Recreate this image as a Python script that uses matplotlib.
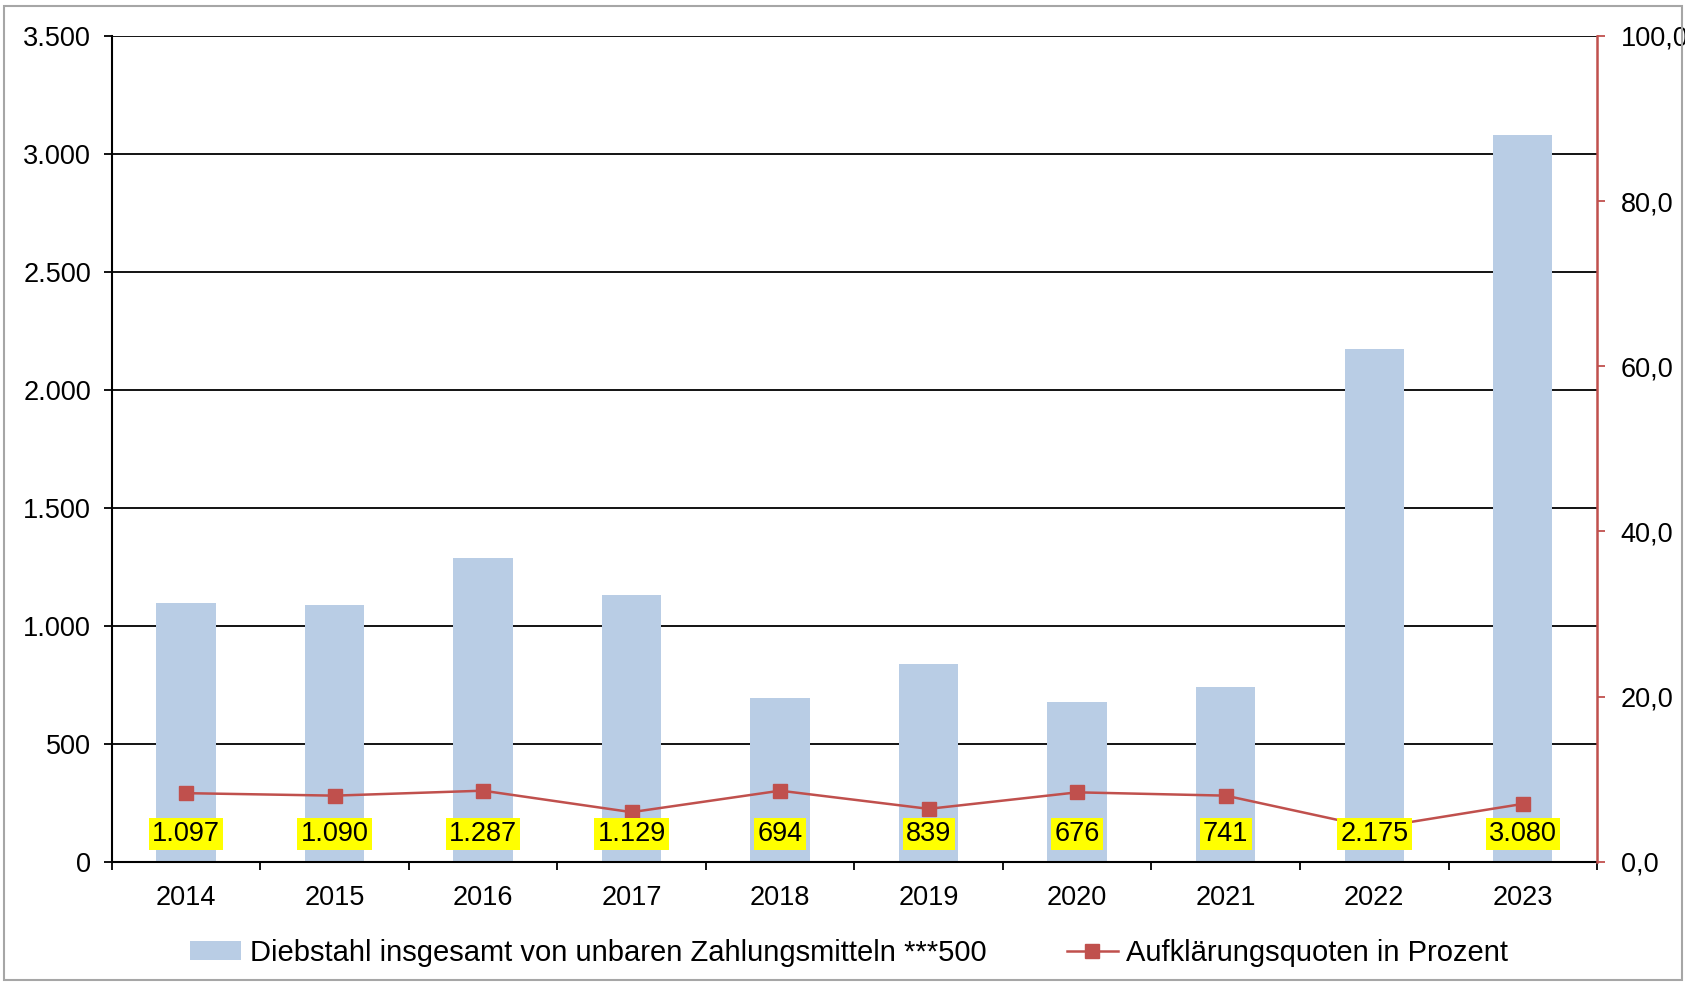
import matplotlib
matplotlib.use("Agg")
import matplotlib.pyplot as plt
import numpy as np
from matplotlib.lines import Line2D
from matplotlib.patches import Patch, Rectangle
from matplotlib.ticker import FuncFormatter, MultipleLocator

plt.rcParams["font.family"] = ["Liberation Sans", "DejaVu Sans"]

years = ["2014", "2015", "2016", "2017", "2018", "2019", "2020", "2021", "2022", "2023"]
faelle = [1097, 1090, 1287, 1129, 694, 839, 676, 741, 2175, 3080]
quote = [8.3, 8.0, 8.6, 6.0, 8.6, 6.4, 8.4, 8.0, 4.1, 7.0]

bar_name = "Diebstahl insgesamt von unbaren Zahlungsmitteln ***500"
line_name = "Aufklärungsquoten in Prozent"

BLUE = "#B9CDE5"
RED = "#C0504D"


def de_int(v, _=None):
    return f"{int(round(v)):,}".replace(",", ".")


def de_one(v, _=None):
    return f"{v:.1f}".replace(".", ",")


fig = plt.figure(figsize=(16.85, 9.83), dpi=100)
ax = fig.add_axes([0.0663, 0.1234, 0.8815, 0.84])
x = np.arange(len(years))

ax.bar(x, faelle, width=0.40, color=BLUE, zorder=2)
ax.set_xlim(-0.5, len(years) - 0.5)
ax.set_ylim(0, 3500)
ax.yaxis.set_major_locator(MultipleLocator(500))
ax.yaxis.set_major_formatter(FuncFormatter(de_int))
ax.grid(axis="y", color="black", linewidth=1.3, zorder=1)
ax.set_axisbelow(True)

ax.set_xticks(x)
ax.set_xticklabels(years)
ax.set_xticks(np.arange(len(years) + 1) - 0.5, minor=True)
ax.tick_params(axis="x", which="major", length=0, pad=16.5, labelsize=19.5)
ax.tick_params(axis="x", which="minor", length=6, width=1.3, color="black")
ax.tick_params(axis="y", length=6, width=1.3, pad=9, labelsize=19.5)

for side in ("top", "right"):
    ax.spines[side].set_visible(False)
ax.spines["left"].set_linewidth(1.5)
ax.spines["bottom"].set_linewidth(1.5)

# Aufklärungsquote auf der rechten Achse
ax2 = ax.twinx()
ax2.plot(x, quote, color=RED, linewidth=1.8, marker="s", markersize=10.5,
         markerfacecolor=RED, markeredgecolor=RED, zorder=3)
ax2.set_ylim(0, 100)
ax2.yaxis.set_major_locator(MultipleLocator(20))
ax2.yaxis.set_major_formatter(FuncFormatter(de_one))
ax2.tick_params(axis="y", length=6, width=1.3, color=RED, pad=11, labelsize=19.5)
for side in ("top", "left", "bottom"):
    ax2.spines[side].set_visible(False)
ax2.spines["right"].set_color(RED)
ax2.spines["right"].set_linewidth(1.8)

# Wertebeschriftungen unten in den Säulen
for xi, v in zip(x, faelle):
    ax2.annotate(de_int(v), xy=(xi, 0.0335), xycoords=("data", "axes fraction"),
                 ha="center", va="center", fontsize=19.5,
                 bbox=dict(boxstyle="square,pad=0.12", facecolor="#FFFF00",
                           edgecolor="none"),
                 zorder=5)

handles = [
    Patch(facecolor=BLUE, edgecolor="none"),
    Line2D([], [], color=RED, linewidth=1.8, marker="s", markersize=10.5),
]
fig.legend(handles, [bar_name, line_name], loc="center", bbox_to_anchor=(0.504, 0.031),
           ncol=2, frameon=False, fontsize=21, handlelength=1.75, handleheight=0.6,
           handletextpad=0.3, columnspacing=2.75)

fig.patches.append(Rectangle((0.0024, 0.003), 0.996, 0.991, transform=fig.transFigure,
                             fill=False, edgecolor="#A6A6A6", linewidth=1.5))

fig.savefig("out.png", dpi=100)
